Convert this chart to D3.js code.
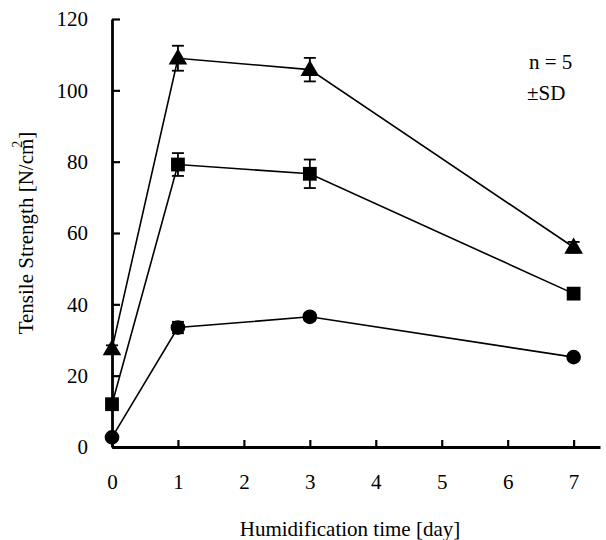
<!DOCTYPE html>
<html>
<head>
<meta charset="utf-8">
<script src="https://cdn.jsdelivr.net/npm/d3@7"></script>
<style>
  body { margin: 0; background: #fff; }
  text { font-family: "Liberation Serif", "Times New Roman", serif; fill: #000; }
</style>
</head>
<body>
<svg id="chart"></svg>
<script>
const DAYS = [0, 1, 3, 7];
const TRIANGLE_MEAN = [27.5, 109, 105.8, 56];
const TRIANGLE_SD = [1, 3.5, 3.3, 1.5];
const SQUARE_MEAN = [12, 79.2, 76.6, 43];
const SQUARE_SD = [1, 3.2, 4, 1.5];
const CIRCLE_MEAN = [2.7, 33.5, 36.5, 25.2];
const CIRCLE_SD = [0.8, 1.6, 1, 0.8];
const X_TICKS = [0, 1, 2, 3, 4, 5, 6, 7];
const Y_TICKS = [0, 20, 40, 60, 80, 100, 120];

const WIDTH = 606;
const HEIGHT = 540;
const MARGIN = { left: 112, top: 19, right: 6, bottom: 93 };
const FONT = 21;

const svg = d3.select('#chart')
  .attr('width', WIDTH)
  .attr('height', HEIGHT);

const xScale = d3.scaleLinear().domain([0, 7.4]).range([MARGIN.left, WIDTH - MARGIN.right]);
const yScale = d3.scaleLinear().domain([0, 120]).range([HEIGHT - MARGIN.bottom, MARGIN.top]);

// axes, ticks pointing inward
const xAxis = svg.append('g')
  .attr('transform', `translate(0, ${yScale(0)})`)
  .call(d3.axisBottom(xScale).tickValues(X_TICKS).tickSize(-7).tickSizeOuter(0).tickPadding(27));
const yAxis = svg.append('g')
  .attr('transform', `translate(${xScale(0)}, 0)`)
  .call(d3.axisLeft(yScale).tickValues(Y_TICKS).tickSize(-8).tickSizeOuter(0).tickPadding(24));

[xAxis, yAxis].forEach(ax => {
  ax.attr('font-family', null).attr('font-size', null);
  ax.select('.domain').attr('stroke', '#000').attr('stroke-width', 2.8);
  ax.selectAll('.tick line').attr('stroke', '#000').attr('stroke-width', 2.2);
  ax.selectAll('.tick text').attr('font-size', FONT);
});
xAxis.selectAll('.tick text').attr('dy', '0.71em');

const series = [
  { mean: TRIANGLE_MEAN, sd: TRIANGLE_SD, symbol: d3.symbolTriangle, size: 150 },
  { mean: SQUARE_MEAN, sd: SQUARE_SD, symbol: d3.symbolSquare, size: 190 },
  { mean: CIRCLE_MEAN, sd: CIRCLE_SD, symbol: d3.symbolCircle, size: 170 },
];

const line = d3.line()
  .x(d => xScale(d.day))
  .y(d => yScale(d.value));

series.forEach(s => {
  const pts = DAYS.map((day, i) => ({ day, value: s.mean[i], sd: s.sd[i] }));

  svg.append('path')
    .datum(pts)
    .attr('d', line)
    .attr('fill', 'none')
    .attr('stroke', '#000')
    .attr('stroke-width', 1.6);

  const err = svg.append('g').selectAll('g')
    .data(pts.filter(p => p.sd > 0.9))
    .enter()
    .append('g')
    .attr('stroke', '#000')
    .attr('stroke-width', 1.8);
  err.append('line')
    .attr('x1', d => xScale(d.day)).attr('x2', d => xScale(d.day))
    .attr('y1', d => yScale(d.value - d.sd)).attr('y2', d => yScale(d.value + d.sd));
  [-1, 1].forEach(k => {
    err.append('line')
      .attr('x1', d => xScale(d.day) - 6).attr('x2', d => xScale(d.day) + 6)
      .attr('y1', d => yScale(d.value + k * d.sd)).attr('y2', d => yScale(d.value + k * d.sd));
  });

  svg.append('g').selectAll('path')
    .data(pts)
    .enter()
    .append('path')
    .attr('d', d3.symbol().type(s.symbol).size(s.size))
    .attr('transform', d => `translate(${xScale(d.day)}, ${yScale(d.value) + (s.symbol === d3.symbolTriangle ? 1 : 0)})`)
    .attr('fill', '#000');
});

// annotation
svg.append('text').attr('x', 529).attr('y', 69).attr('font-size', FONT).text('n = 5');
svg.append('text').attr('x', 527).attr('y', 100).attr('font-size', FONT).text('±SD');

// axis titles
svg.append('text')
  .attr('x', 350).attr('y', 536)
  .attr('text-anchor', 'middle')
  .attr('font-size', FONT)
  .text('Humidification time [day]');

const yTitle = svg.append('text')
  .attr('transform', 'translate(33, 233) rotate(-90)')
  .attr('text-anchor', 'middle')
  .attr('font-size', FONT);
yTitle.append('tspan').text('Tensile Strength [N/cm');
yTitle.append('tspan').attr('font-size', 14).attr('dx', -9).attr('dy', -11).text('2');
yTitle.append('tspan').attr('dx', 2).attr('dy', 11).text(']');
</script>
</body>
</html>
